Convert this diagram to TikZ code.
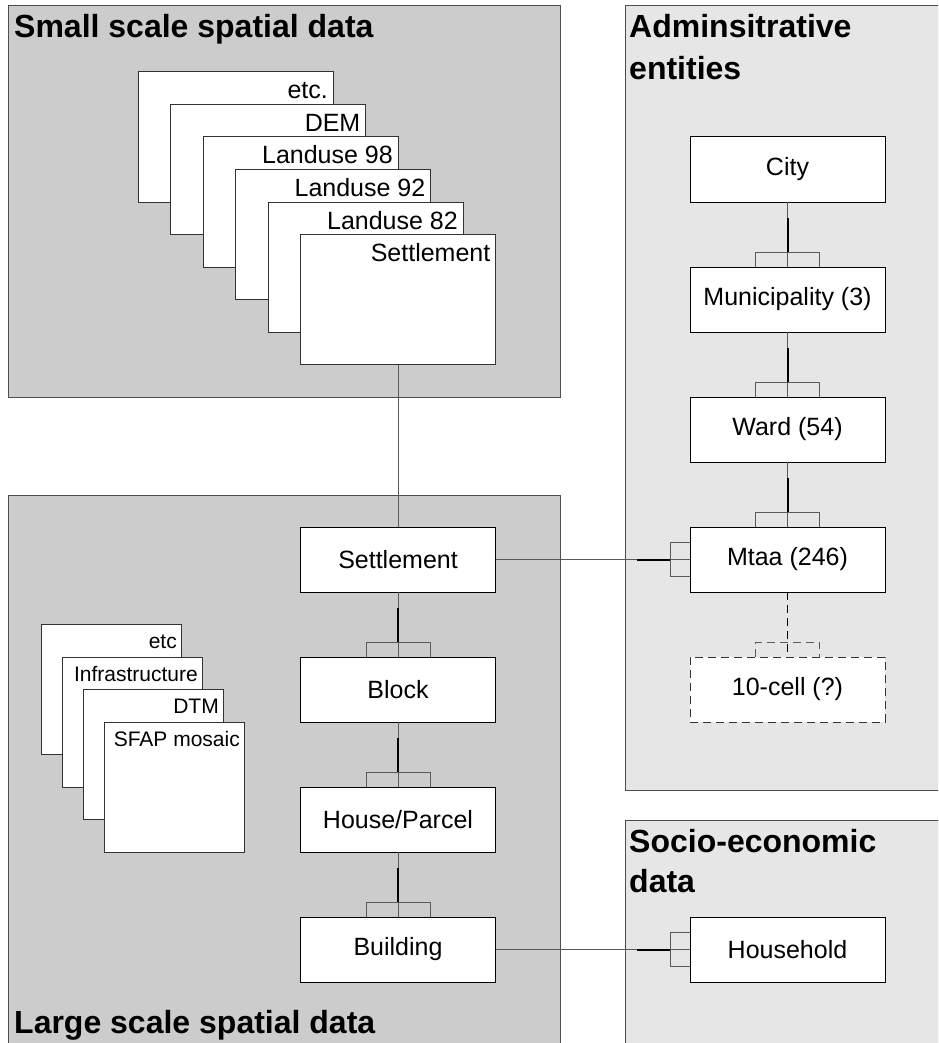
\documentclass[tikz,border=0pt]{standalone}
\usepackage{fontspec}
\setmainfont{Liberation Sans}
\definecolor{panelA}{HTML}{CCCCCC}
\definecolor{panelB}{HTML}{E6E6E6}
\definecolor{frame}{HTML}{4D4D4D}
\definecolor{sheetline}{HTML}{333333}
\definecolor{linkgray}{HTML}{595959}
% one-to-many link from a parent above to a child below
\newcommand{\linkdown}[2]{%
  \draw[link] (#1.south) -- (#2.north);
  \draw[heavy] (#2.north) ++(0,-15) -- ++(0,-34);
  \draw[fork] (#2.north) ++(-32,0) -- ++(0,-15) -- ++(64,0) -- ++(0,15);
}
% one-to-many link from a parent on the left to a child on the right
\newcommand{\linkright}[2]{%
  \draw[link] (#1.east) -- (#2.west);
  \draw[heavy] (#2.west) ++(-20,0) -- ++(-33,0);
  \draw[fork] (#2.west) ++(0,-17) -- ++(-20,0) -- ++(0,34) -- ++(20,0);
}
\begin{document}
\begin{tikzpicture}[x=1pt,y=-1pt,
  panel/.style={draw=frame, line width=1pt},
  darkpanel/.style={panel, fill=panelA},
  lightpanel/.style={panel, fill=panelB},
  title/.style={anchor=base west, inner sep=0pt, font=\fontsize{32}{38}\selectfont\bfseries},
  entity/.style={draw=black, fill=white, line width=1pt, minimum width=195pt,
    minimum height=65pt, inner sep=0pt, outer sep=0pt, font=\fontsize{25}{30}\selectfont},
  sheet/.style={draw=sheetline, fill=white, line width=1pt, minimum width=195pt,
    minimum height=130pt, anchor=north west, inner sep=0pt, outer sep=0pt},
  smallsheet/.style={sheet, minimum width=140pt},
  sheetlabel/.style={anchor=base east, inner sep=0pt, font=\fontsize{25}{30}\selectfont},
  smalllabel/.style={anchor=base east, inner sep=0pt, font=\fontsize{21}{25}\selectfont},
  link/.style={draw=linkgray, line width=1pt},
  heavy/.style={draw=black, line width=2pt},
  fork/.style={draw=linkgray, line width=1pt},
  dashlink/.style={draw=black, line width=1.2pt, dash pattern=on 8pt off 5pt},
]
\useasboundingbox (0,0) rectangle (938,1043);
\clip (0,0) rectangle (938,1043);

% panels
\draw[darkpanel]  (8,6)   rectangle (560,397);
\draw[lightpanel] (625,6) rectangle (960,790);
\draw[darkpanel]  (8,495) rectangle (560,1060);
\draw[lightpanel] (625,820) rectangle (960,1060);

% panel titles
\node[title] (tsmall) at (14,38) {Small scale spatial data};
\node[title] (tadm1) at (629,38) {Adminsitrative};
\node[title] (tadm2) at (629,80) {entities};
\node[title] (tsoc1) at (629,852) {Socio-economic};
\node[title] (tsoc2) at (629,892) {data};
\node[title] (tlarge) at (14,1033) {Large scale spatial data};

% small scale layers
\node[sheet] (s1) at (138,72)      {};
\node[sheetlabel] (l1) at ([shift={(-5,27)}]s1.north east) {etc.};
\node[sheet] (s2) at (170.5,104.5) {};
\node[sheetlabel] (l2) at ([shift={(-5,27)}]s2.north east) {DEM};
\node[sheet] (s3) at (203,137)     {};
\node[sheetlabel] (l3) at ([shift={(-5,27)}]s3.north east) {Landuse 98};
\node[sheet] (s4) at (235.5,169.5) {};
\node[sheetlabel] (l4) at ([shift={(-5,27)}]s4.north east) {Landuse 92};
\node[sheet] (s5) at (268,202)     {};
\node[sheetlabel] (l5) at ([shift={(-5,27)}]s5.north east) {Landuse 82};
\node[sheet] (s6) at (300.5,234.5) {};
\node[sheetlabel] (l6) at ([shift={(-5,27)}]s6.north east) {Settlement};

% large scale layers
\node[smallsheet] (g1) at (41,624.5) {};
\node[smalllabel] (m1) at ([shift={(-4,24)}]g1.north east) {etc};
\node[smallsheet] (g2) at (62,657)   {};
\node[smalllabel] (m2) at ([shift={(-4,24)}]g2.north east) {Infrastructure};
\node[smallsheet] (g3) at (83,689.5) {};
\node[smalllabel] (m3) at ([shift={(-4,24)}]g3.north east) {DTM};
\node[smallsheet] (g4) at (104,722)  {};
\node[smalllabel] (m4) at ([shift={(-4,24)}]g4.north east) {SFAP mosaic};

% administrative hierarchy
\node[entity] (city) at (787.5,169.5) {City};
\node[entity] (muni) at (787.5,299.5) {Municipality (3)};
\node[entity] (ward) at (787.5,429.5) {Ward (54)};
\node[entity] (mtaa) at (787.5,559.5) {Mtaa (246)};
\node[entity, draw=sheetline, dash pattern=on 8pt off 5pt] (cell) at (787.5,689.5) {10-cell (?)};

% large scale hierarchy
\node[entity] (sett)  at (398,559.5) {Settlement};
\node[entity] (block) at (398,689.5) {Block};
\node[entity] (house) at (398,819.5) {House/Parcel};
\node[entity] (build) at (398,949.5) {Building};

% socio-economic data
\node[entity] (hh) at (787.5,949.5) {Household};

% links
\draw[link] (s6.south) -- (sett.north);
\linkdown{city}{muni}
\linkdown{muni}{ward}
\linkdown{ward}{mtaa}
\draw[dashlink] (mtaa.south) -- (cell.north);
\draw[dashlink, line width=1pt, draw=linkgray] (cell.north) ++(-32,0) -- ++(0,-15) -- ++(64,0) -- ++(0,15);
\linkdown{sett}{block}
\linkdown{block}{house}
\linkdown{house}{build}
\linkright{sett}{mtaa}
\linkright{build}{hh}
\end{tikzpicture}
\end{document}
